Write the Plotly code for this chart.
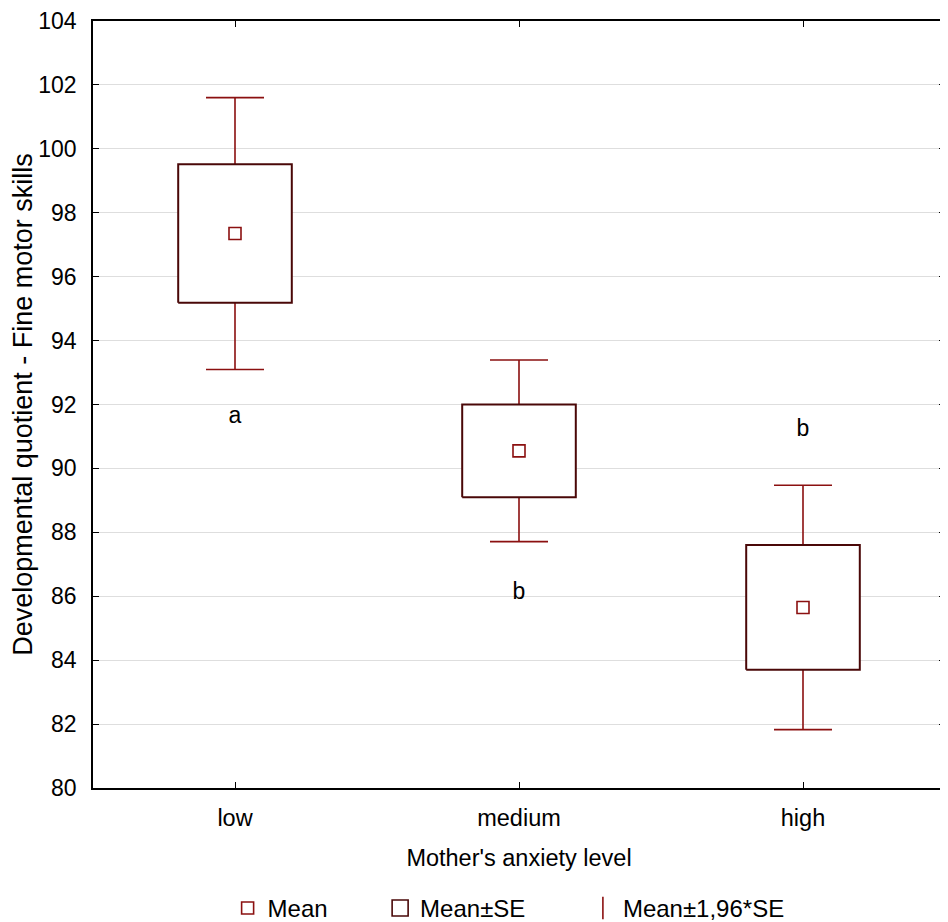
import plotly.graph_objects as go

# Data
levels = ["low", "medium", "high"]
means = [97.35, 90.55, 85.65]
se = [2.17, 1.45, 1.95]
letters = ["a", "b", "b"]
letter_y = [91.6, 86.1, 91.2]
y_ticks = [80, 82, 84, 86, 88, 90, 92, 94, 96, 98, 100, 102, 104]

red = "#8b1010"
dark = "#4a0808"
font = "Liberation Sans, Arial, sans-serif"

xs = list(range(len(levels)))
ci = [1.96 * s for s in se]

# box outlines (mean +/- SE) built from the data
bx, by = [], []
for i, m, s in zip(xs, means, se):
    bx += [i - 0.2, i + 0.2, i + 0.2, i - 0.2, i - 0.2, None]
    by += [m - s, m - s, m + s, m + s, m - s, None]

fig = go.Figure()

# whiskers (mean +/- 1.96*SE), drawn first so the boxes cover the middle
fig.add_trace(go.Scatter(
    x=xs, y=means, mode="markers", showlegend=False,
    marker=dict(size=1, color="rgba(0,0,0,0)"),
    error_y=dict(type="data", array=ci, symmetric=True, color=red, thickness=1.6, width=29),
))

fig.add_trace(go.Scatter(
    x=bx, y=by, mode="lines", fill="toself", fillcolor="white",
    line=dict(color=dark, width=2), showlegend=False, hoverinfo="skip",
))

fig.add_trace(go.Scatter(
    x=xs, y=means, mode="markers", name="Mean", legend="legend",
    marker=dict(symbol="square-open", size=12, color=red, line=dict(width=1.6, color=red)),
))

# legend-only entries
fig.add_trace(go.Scatter(
    x=[None], y=[None], mode="markers", name="Mean±SE", legend="legend2",
    marker=dict(symbol="square-open", size=20, color=dark, line=dict(width=1.6, color=dark)),
))
fig.add_trace(go.Scatter(
    x=[None], y=[None], mode="markers", name="Mean±1,96*SE", legend="legend3",
    marker=dict(symbol="line-ns-open", size=22, color=red, line=dict(width=1.6, color=red)),
))

fig.add_trace(go.Scatter(
    x=xs, y=letter_y, mode="text", text=letters, showlegend=False,
    textfont=dict(family=font, size=23, color="black"), hoverinfo="skip",
))

fig.update_xaxes(
    range=[-0.5, 2.5], tickvals=xs, ticktext=levels, automargin=False,
    showline=True, linecolor="black", linewidth=1.5, mirror="ticks",
    ticks="inside", ticklen=6, tickcolor="black", showgrid=False, zeroline=False,
    ticklabelstandoff=8,
    title=dict(text="Mother's anxiety level", font=dict(family=font, size=23.5, color="black"), standoff=20),
    tickfont=dict(family=font, size=23.5, color="black"),
)
fig.update_yaxes(
    range=[80, 104], tickvals=y_ticks, automargin=False,
    showline=True, linecolor="black", linewidth=1.5, mirror="ticks",
    ticks="inside", ticklen=6, tickcolor="black",
    showgrid=True, gridcolor="#dedede", gridwidth=1, zeroline=False,
    ticklabelstandoff=10, ticklabeloverflow="allow",
    title=dict(text="Developmental quotient - Fine motor skills", font=dict(family=font, size=27, color="black"), standoff=8),
    tickfont=dict(family=font, size=23, color="black"),
)

leg = dict(orientation="h", y=-0.157, yanchor="middle", xanchor="left",
           font=dict(family=font, size=24, color="black"), itemsizing="trace",
           bgcolor="rgba(0,0,0,0)")

fig.update_layout(
    width=940, height=914,
    margin=dict(l=85, r=3, t=13, b=134, autoexpand=False),
    plot_bgcolor="white", paper_bgcolor="white",
    font=dict(family=font, size=23, color="black"),
    legend=dict(leg, x=0.158),
    legend2=dict(leg, x=0.337),
    legend3=dict(leg, x=0.575),
)

fig.write_html("out.html")
